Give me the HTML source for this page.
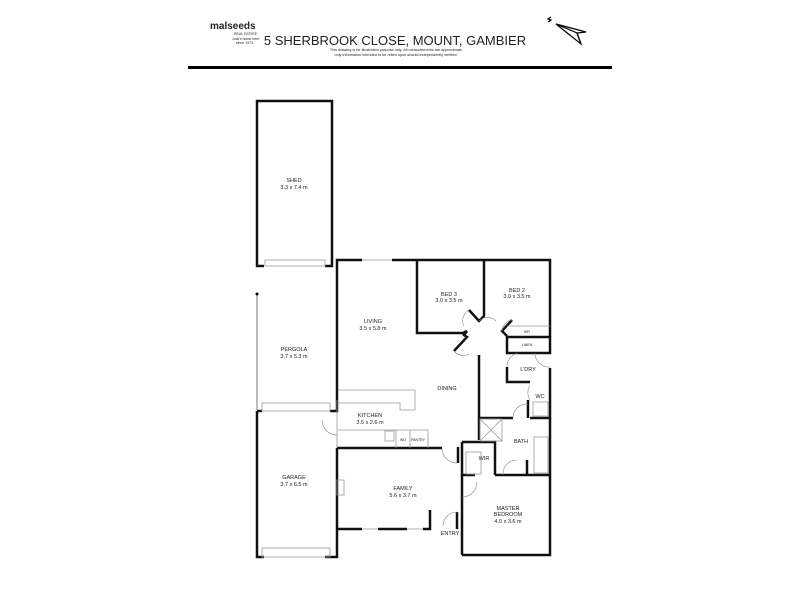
<!DOCTYPE html>
<html><head><meta charset="utf-8"><style>
html,body{margin:0;padding:0;background:#fff;width:800px;height:600px;overflow:hidden}
svg{display:block}
text{font-family:"Liberation Sans",sans-serif;fill:#222}
</style></head><body>
<svg width="800" height="600" viewBox="0 0 800 600" xmlns="http://www.w3.org/2000/svg">
<!-- header -->
<text x="210" y="29" font-size="10" font-weight="bold">malseeds</text>
<text x="234" y="35" font-size="3.5">REAL ESTATE</text>
<text x="232" y="40" font-size="3.5">Jock's home here</text>
<text x="236" y="44" font-size="3.5">since 1973</text>
<text x="395" y="45" font-size="13" text-anchor="middle">5 SHERBROOK CLOSE, MOUNT, GAMBIER</text>
<text x="396" y="51" font-size="3.8" text-anchor="middle">This drawing is for illustration purpose only. All measurements are approximate</text>
<text x="396" y="56" font-size="3.8" text-anchor="middle">only information intended to be relied upon should independently verified.</text>
<rect x="188" y="66" width="424" height="3" fill="#000"/>
<g stroke="#000" fill="none" stroke-width="1.2"><path d="M548 22 l3 -2 l-3 -1 l3 -2"/><path d="M556 24 L586 32 L577 33 L581 44 Z" fill="#fff"/><path d="M556 24 L577 33 L581 44"/></g>

<g stroke="#111" stroke-width="2.5" fill="none">
<!-- shed -->
<path d="M264 266 H257 V101 H332 V266 H325"/>
<!-- garage -->
<path d="M257 411 V557 H264 M325 557 H337 V448"/>
<path d="M257 411 H262 M330 411 H337 V400"/>
<!-- house outer -->
<path d="M337 400 V260 H362 M392 260 H550 V337"/>
<path d="M337 529 H362 M378 529 H407 M423 529 H430 V510"/>
<path d="M337 448 H442"/>
<!-- beds -->
<path d="M417 260 V333 H463 L467 331"/>
<path d="M467 331 L464 335 L467 337 L454 351"/>
<path d="M484 260 V316 L479 321 L469 310"/>
<path d="M512 320 L502 331 L507 336"/>
<path d="M507 337 H550 V353 H507 Z"/>
<path d="M507 367 V382 H530"/>
<path d="M550 368 V418 H530 M528 400 V418"/>
<!-- hall -->
<path d="M479 355 V440 M479 418 H513"/>
<path d="M462 442 H495 V475 M462 442 V555 M458 447 V463"/>
<path d="M462 475 H475 M495 475 H550 M527 460 V475"/>
<path d="M462 555 H550 V418"/>
<path d="M457 512 V529"/>
</g>
<!-- door swings -->
<g stroke="#888" stroke-width="0.6" fill="none">
<path d="M322 420 A15 15 0 0 0 337 435"/>
<path d="M442 448 A15 15 0 0 0 457 463"/>
<path d="M457 512 A14 14 0 0 0 443 526"/>
<path d="M462 497 A15 15 0 0 0 477 482"/>
<path d="M507 367 A14 14 0 0 1 518 353"/>
<path d="M535 353 A14 14 0 0 0 550 367"/>
<path d="M530 385 A14 14 0 0 0 530 400"/>
<path d="M513 418 A14 14 0 0 1 528 404"/>
<path d="M503 475 A14 14 0 0 1 517 460"/>
<path d="M469 310 A12 12 0 0 0 464 326"/>
<path d="M479 321 A12 12 0 0 1 496 321"/>
<path d="M502 331 A12 12 0 0 1 512 320"/>
<path d="M454 351 A12 12 0 0 0 469 354"/>
</g>
<!-- thin lines: windows, benches -->
<g stroke="#999" stroke-width="0.8" fill="none">
<rect x="265" y="260" width="60" height="6"/>
<rect x="262" y="403" width="68" height="8"/>
<rect x="262" y="548" width="68" height="9"/>
<path d="M362 260 H392 M362 529 H378 M407 529 H423"/>
<path d="M257 294 V410" stroke="#555"/>
<path d="M337 400 V448"/>
<path d="M338 390 H415 V410 H400 V403 H338"/>
<path d="M338 430 H428 V448"/>
<rect x="385" y="431" width="9" height="10"/>
<path d="M396 430 V448 M410 430 V448"/>
<rect x="480" y="419" width="22" height="22"/><path d="M480 419 L502 441 M502 419 L480 441"/>
<rect x="534" y="437" width="14" height="36"/>
<rect x="533" y="402" width="15" height="14"/>
<path d="M507 326 H550"/>
<rect x="466" y="452" width="15" height="22"/>
<rect x="337" y="480" width="7" height="15"/>
</g>
<circle cx="257" cy="294" r="1.5" fill="#000"/>
<!-- labels -->
<g font-size="5.5" text-anchor="middle">
<text x="294" y="182">SHED</text><text x="294" y="189">3.3 x 7.4 m</text>
<text x="294" y="351">PERGOLA</text><text x="294" y="358">3.7 x 5.3 m</text>
<text x="294" y="479">GARAGE</text><text x="294" y="486">3.7 x 6.5 m</text>
<text x="373" y="323">LIVING</text><text x="373" y="330">3.5 x 5.8 m</text>
<text x="449" y="296">BED 3</text><text x="449" y="302">3.0 x 3.5 m</text>
<text x="517" y="292">BED 2</text><text x="517" y="298">3.0 x 3.5 m</text>
<text x="447" y="390">DINING</text>
<text x="370" y="417">KITCHEN</text><text x="370" y="424">3.5 x 2.6 m</text>
<text x="403" y="490">FAMILY</text><text x="403" y="497">5.6 x 3.7 m</text>
<text x="508" y="510">MASTER</text><text x="508" y="516">BEDROOM</text><text x="508" y="523">4.0 x 3.6 m</text>
<text x="521" y="443">BATH</text>
<text x="484" y="460">WIR</text>
<text x="528" y="371">L'DRY</text>
<text x="540" y="398">WC</text>
<text x="450" y="535">ENTRY</text>
</g>
<g font-size="3.5" text-anchor="middle">
<text x="527" y="333">B/R</text><text x="527" y="346">LINEN</text>
<text x="403" y="441">WO</text><text x="418" y="441">PANTRY</text>
</g>
</svg>
</body></html>
